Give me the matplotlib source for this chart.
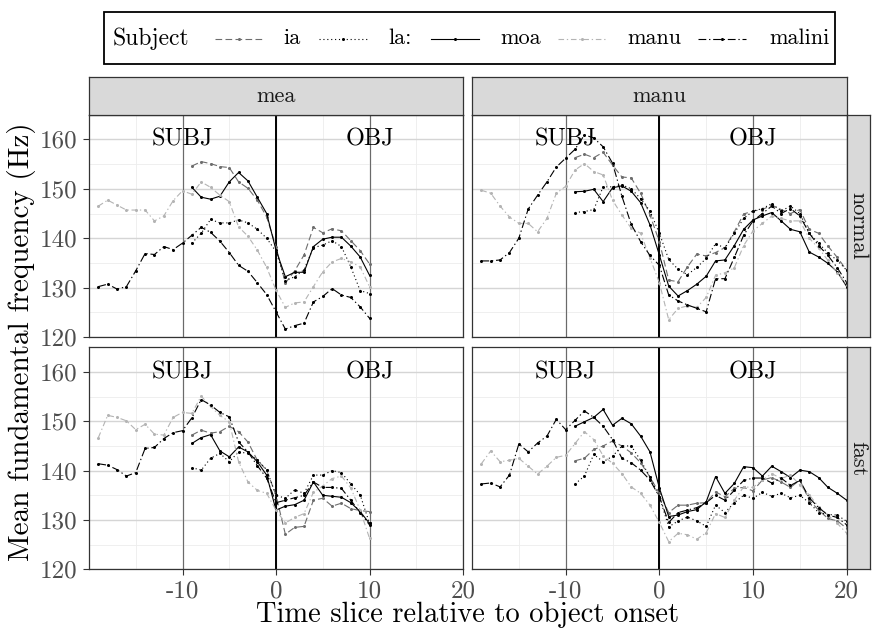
import matplotlib
matplotlib.use("Agg")
import matplotlib.pyplot as plt
from matplotlib.patches import Rectangle

plt.rcParams['font.family'] = ['cmr10', 'DejaVu Serif']
plt.rcParams['axes.unicode_minus'] = False
plt.rcParams['axes.formatter.use_mathtext'] = True

# --- data ---
subjects = ['ia', 'la:', 'moa', 'manu', 'malini']
speakers = ['mea', 'manu']
speeds = ['normal', 'fast']

x_mea_long = list(range(-19, 11))
x_mea_short = list(range(-9, 11))
x_manu_long = list(range(-19, 21))
x_manu_short = list(range(-9, 21))

# mea, normal
mea_normal_ia = [154.6, 155.5, 155.1, 154.5, 154.3, 151.4, 150.1, 147.7, 144.3, 138.3,
                 130.9, 133.4, 136.6, 142.2, 141.1, 141.9, 141.5, 139.5, 137.5, 134.8]
mea_normal_la = [139.0, 141.0, 143.8, 143.1, 143.1, 143.7, 143.1, 141.8, 140.0, 137.3,
                 131.4, 132.2, 133.6, 138.1, 138.6, 139.5, 138.3, 134.2, 129.4, 128.8]
mea_normal_moa = [150.3, 148.3, 147.9, 148.5, 151.4, 153.3, 151.6, 148.3, 145.0, 137.6,
                  132.2, 133.1, 133.1, 138.3, 139.8, 140.2, 140.2, 138.4, 136.2, 132.5]
mea_normal_manu = [146.5, 147.7, 146.7, 145.7, 145.7, 145.7, 143.5, 144.5, 147.6, 149.6,
                   148.9, 151.4, 150.3, 148.7, 147.4, 142.3, 140.4, 137.6, 134.1, 129.5,
                   126.0, 126.9, 127.1, 130.2, 133.2, 135.2, 135.9, 135.2, 134.2, 130.2]
mea_normal_malini = [130.2, 130.7, 129.7, 130.2, 133.4, 136.9, 136.7, 138.3, 137.7, 139.0,
                     140.6, 142.2, 141.2, 139.4, 137.1, 134.5, 133.3, 131.0, 128.6, 125.1,
                     121.6, 122.3, 122.8, 127.1, 128.2, 129.8, 128.5, 128.0, 126.1, 123.8]

# mea, fast
mea_fast_ia = [147.2, 148.2, 147.6, 147.9, 149.0, 147.9, 145.8, 142.1, 140.1, 135.0,
               127.1, 128.5, 128.7, 134.0, 134.4, 132.8, 133.4, 132.3, 131.9, 131.7]
mea_fast_la = [140.6, 140.1, 142.5, 143.5, 141.8, 143.8, 143.5, 142.2, 140.2, 135.0,
               134.4, 136.1, 135.4, 139.1, 139.1, 140.0, 139.6, 137.3, 135.1, 129.3]
mea_fast_moa = [145.5, 146.7, 147.3, 144.0, 142.8, 144.8, 143.8, 141.8, 139.1, 132.0,
                132.8, 133.1, 134.0, 137.7, 135.0, 134.8, 134.6, 133.5, 131.7, 129.3]
mea_fast_manu = [146.7, 151.2, 150.8, 150.1, 148.3, 149.4, 147.4, 147.2, 150.8, 151.8,
                 151.6, 155.1, 153.0, 151.2, 149.9, 141.8, 137.7, 136.0, 135.4, 132.0,
                 129.4, 130.5, 131.3, 135.6, 136.9, 138.4, 138.9, 136.5, 132.0, 126.3]
mea_fast_malini = [141.4, 141.1, 140.2, 138.9, 139.6, 144.5, 144.7, 146.5, 147.7, 148.1,
                   150.7, 154.4, 153.3, 151.8, 150.9, 145.8, 143.8, 141.0, 138.5, 133.5,
                   134.0, 134.5, 135.0, 137.7, 136.6, 136.6, 136.4, 134.0, 131.5, 129.0]

# manu, normal
manu_normal_ia = [156.3, 157.0, 156.3, 157.4, 154.8, 152.4, 152.2, 149.1, 144.7, 139.3,
                  131.5, 131.2, 134.2, 136.8, 136.4, 137.1, 138.1, 141.3, 144.9, 145.5,
                  145.8, 146.7, 145.8, 145.0, 145.8, 141.8, 141.0, 138.4, 136.1, 133.5]
manu_normal_la = [145.2, 145.4, 145.8, 150.4, 150.4, 150.8, 150.0, 148.0, 145.5, 141.0,
                  135.7, 133.7, 132.6, 134.1, 135.9, 138.9, 138.0, 141.0, 144.0, 145.5,
                  146.0, 147.0, 145.5, 146.5, 145.0, 141.0, 139.0, 137.0, 135.5, 133.5]
manu_normal_moa = [149.4, 149.5, 149.9, 147.4, 150.2, 150.6, 149.5, 147.2, 142.7, 136.6,
                   130.3, 128.3, 129.4, 130.7, 132.3, 135.4, 135.6, 138.5, 141.8, 143.7,
                   144.5, 145.2, 143.5, 141.8, 141.3, 137.2, 136.2, 134.9, 133.2, 130.2]
manu_normal_manu = [149.7, 149.1, 146.5, 144.3, 143.0, 143.0, 141.3, 144.0, 149.1, 150.5,
                    153.8, 155.1, 153.5, 152.8, 147.7, 144.7, 142.0, 141.0, 136.0, 131.0,
                    123.5, 125.8, 126.3, 126.0, 128.0, 132.5, 133.0, 134.0, 138.5, 141.5,
                    143.0, 144.5, 144.0, 143.5, 143.5, 140.0, 138.0, 135.5, 133.0, 130.5]
manu_normal_malini = [135.4, 135.4, 135.6, 137.1, 140.0, 145.9, 148.7, 151.4, 154.4, 156.2,
                      158.0, 160.9, 160.3, 158.5, 155.2, 148.5, 142.8, 139.3, 136.5, 134.5,
                      128.5, 127.3, 126.5, 125.8, 125.1, 131.8, 131.8, 136.1, 140.6, 143.5,
                      145.0, 146.5, 145.0, 146.0, 144.5, 141.0, 138.5, 136.5, 134.0, 131.0]

# manu, fast
manu_fast_ia = [142.0, 142.5, 144.3, 145.0, 146.0, 145.0, 143.6, 141.6, 138.7, 135.4,
                131.5, 133.0, 133.0, 133.4, 133.5, 135.7, 134.7, 136.4, 136.6, 135.9,
                138.1, 138.6, 137.7, 136.6, 138.1, 134.0, 132.0, 130.3, 129.8, 128.3]
manu_fast_la = [137.3, 138.9, 143.3, 141.8, 142.9, 145.0, 145.0, 142.1, 138.7, 134.7,
                128.6, 129.8, 130.6, 129.8, 128.7, 133.0, 131.5, 133.5, 135.0, 134.4,
                135.6, 134.8, 135.4, 134.5, 135.0, 133.5, 131.5, 131.1, 131.0, 129.7]
manu_fast_moa = [149.0, 149.9, 150.8, 152.4, 149.2, 150.6, 149.5, 147.0, 143.8, 136.5,
                 130.7, 131.0, 131.7, 132.1, 133.7, 138.8, 135.4, 137.4, 140.8, 140.6,
                 138.9, 140.9, 139.8, 138.6, 140.1, 139.8, 138.6, 136.6, 135.4, 134.0]
manu_fast_manu = [141.4, 144.0, 141.8, 142.1, 142.5, 140.9, 139.3, 140.9, 142.7, 143.1,
                  145.5, 147.9, 146.3, 143.0, 141.5, 139.4, 136.7, 135.4, 133.0, 129.5,
                  125.6, 127.3, 127.0, 126.1, 127.4, 131.3, 130.5, 134.0, 136.7, 136.6,
                  138.1, 139.4, 138.4, 139.1, 137.1, 135.1, 132.7, 131.0, 129.3, 127.3]
manu_fast_malini = [137.3, 137.5, 136.7, 139.1, 145.4, 143.8, 145.6, 147.0, 150.4, 148.3,
                    150.2, 152.1, 150.8, 149.0, 146.3, 142.5, 141.6, 140.1, 138.1, 134.7,
                    129.5, 131.5, 132.0, 132.5, 133.5, 135.0, 134.0, 136.0, 138.0, 138.5,
                    138.5, 137.5, 138.5, 137.0, 138.0, 134.5, 132.5, 131.0, 130.5, 129.0]

panels = {
    ('mea', 'normal'): [(x_mea_short, mea_normal_ia), (x_mea_short, mea_normal_la),
                        (x_mea_short, mea_normal_moa), (x_mea_long, mea_normal_manu),
                        (x_mea_long, mea_normal_malini)],
    ('mea', 'fast'): [(x_mea_short, mea_fast_ia), (x_mea_short, mea_fast_la),
                      (x_mea_short, mea_fast_moa), (x_mea_long, mea_fast_manu),
                      (x_mea_long, mea_fast_malini)],
    ('manu', 'normal'): [(x_manu_short, manu_normal_ia), (x_manu_short, manu_normal_la),
                         (x_manu_short, manu_normal_moa), (x_manu_long, manu_normal_manu),
                         (x_manu_long, manu_normal_malini)],
    ('manu', 'fast'): [(x_manu_short, manu_fast_ia), (x_manu_short, manu_fast_la),
                       (x_manu_short, manu_fast_moa), (x_manu_long, manu_fast_manu),
                       (x_manu_long, manu_fast_malini)],
}

# line styles per subject
styles = {
    'ia': dict(color='#6e6e6e', dashes=(6, 3)),
    'la:': dict(color='black', dashes=(1, 2.5)),
    'moa': dict(color='black', linestyle='-'),
    'manu': dict(color='#b4b4b4', dashes=(5, 2.5, 1.2, 2.5)),
    'malini': dict(color='black', dashes=(7, 2.5, 1.2, 2.5)),
}

W, H = 873, 630
fig = plt.figure(figsize=(W / 100, H / 100), dpi=100)


def box(x0, y0, x1, y1):
    return [x0 / W, 1 - y1 / H, (x1 - x0) / W, (y1 - y0) / H]


cols = [(89, 463), (472, 846.7)]
rows = [(114.7, 337), (347.3, 569.3)]
border = '#333333'

for ci, spk in enumerate(speakers):
    for ri, spd in enumerate(speeds):
        ax = fig.add_axes(box(cols[ci][0], rows[ri][0], cols[ci][1], rows[ri][1]))
        ax.set_xlim(-20, 20)
        ax.set_ylim(120, 165)
        ax.set_xticks([-10, 0, 10, 20])
        ax.set_xticklabels(['-10', '0', '10', '20'])
        ax.set_xticks([-15, -5, 5, 15], minor=True)
        ax.set_yticks([120, 130, 140, 150, 160])
        ax.set_yticklabels(['120', '130', '140', '150', '160'])
        ax.set_yticks([125, 135, 145, 155, 165], minor=True)
        ax.grid(which='major', color='#d5d5d5', linewidth=1.0)
        ax.grid(which='minor', color='#ededed', linewidth=0.6)
        ax.set_axisbelow(True)
        ax.axvline(-10, color='#6a6a6a', linewidth=0.8)
        ax.axvline(10, color='#6a6a6a', linewidth=0.8)
        ax.axvline(0, color='black', linewidth=1.4)
        ax.text(-10, 160, 'SUBJ', ha='center', va='center', fontsize=17.5)
        ax.text(10, 160, 'OBJ', ha='center', va='center', fontsize=17.5)

        for subj, (xs, ys) in zip(subjects, panels[(spk, spd)]):
            ax.plot(xs, ys, linewidth=0.8, marker='o', markersize=2.2,
                    markeredgewidth=0, **styles[subj])

        for sp in ax.spines.values():
            sp.set_color(border)
            sp.set_linewidth(0.9)
        ax.tick_params(which='minor', length=0)
        ax.tick_params(which='major', length=4, width=0.8, color=border,
                       labelcolor='#4d4d4d', labelsize=18, pad=4)
        if ri == 0:
            ax.tick_params(axis='x', bottom=False, labelbottom=False)
        if ci == 1:
            ax.tick_params(axis='y', left=False, labelleft=False)

# strips
for ci, spk in enumerate(speakers):
    s = fig.add_axes(box(cols[ci][0], 77, cols[ci][1], rows[0][0]))
    s.set_facecolor('#d9d9d9')
    s.set_xticks([])
    s.set_yticks([])
    for sp in s.spines.values():
        sp.set_color(border)
        sp.set_linewidth(0.9)
    s.text(0.5, 0.5, spk, ha='center', va='center', fontsize=16,
           color='#1a1a1a', transform=s.transAxes)

for ri, spd in enumerate(speeds):
    s = fig.add_axes(box(cols[1][1], rows[ri][0], 870, rows[ri][1]))
    s.set_facecolor('#d9d9d9')
    s.set_xticks([])
    s.set_yticks([])
    for sp in s.spines.values():
        sp.set_color(border)
        sp.set_linewidth(0.9)
    s.text(0.5, 0.5, spd, ha='center', va='center', fontsize=16, rotation=-90,
           color='#1a1a1a', transform=s.transAxes)

# axis titles
fig.text(468 / W, 1 - 615 / H, 'Time slice relative to object onset',
         ha='center', va='center', fontsize=20.5)
fig.text(22 / W, 1 - 342 / H, 'Mean fundamental frequency (Hz)',
         ha='center', va='center', fontsize=21, rotation=90)

# legend drawn on an overlay in pixel coordinates
lax = fig.add_axes([0, 0, 1, 1], zorder=5)
lax.set_xlim(0, W)
lax.set_ylim(H, 0)
lax.axis('off')
lax.add_patch(Rectangle((104, 12), 731, 52, fill=False, edgecolor='black',
                        linewidth=1.3))
ly = 38.5
lax.text(113, ly, 'Subject', ha='left', va='center', fontsize=17)
key_x = [215, 319, 431, 558, 698]
label_x = [283, 388, 500, 627, 769]
for subj, kx, tx in zip(subjects, key_x, label_x):
    lax.plot([kx, kx + 48], [ly, ly], linewidth=0.8, **styles[subj])
    lax.plot([kx + 24], [ly], marker='o', markersize=2.2, markeredgewidth=0,
             color=styles[subj]['color'])
    lax.text(tx, ly, subj, ha='left', va='center', fontsize=16)

fig.savefig('out.png', dpi=100)
